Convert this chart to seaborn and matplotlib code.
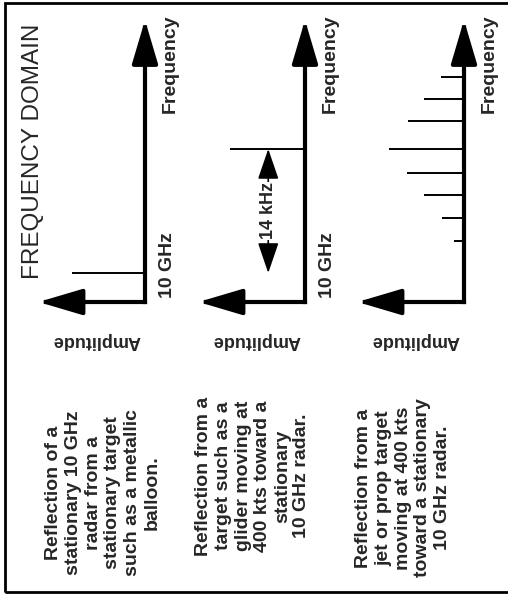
import numpy as np
import matplotlib
matplotlib.use("Agg")
import matplotlib.pyplot as plt
import seaborn as sns
from matplotlib.patches import Rectangle

sns.set_style("white")
plt.rcParams["font.family"] = ["Liberation Sans", "DejaVu Sans"]

# spectral lines: frequency offset from 10 GHz (kHz) and relative amplitude
balloon_freq = [0.0]
balloon_amp = [0.97]
glider_freq = [14.0]
glider_amp = [1.0]
jet_freq = [22.1, 19.6, 17.2, 14.0, 11.3, 8.8, 6.2, 3.6]
jet_amp = [0.30, 0.53, 0.75, 1.0, 0.76, 0.53, 0.29, 0.13]
doppler_shift = 14.0

panel_freqs = [balloon_freq, glider_freq, jet_freq]
panel_amps = [balloon_amp, glider_amp, jet_amp]
carrier_labels = ["10 GHz", "10 GHz", None]
captions = [
    "Reflection of a\nstationary 10 GHz\nradar from a\nstationary target\nsuch as a metallic\nballoon.",
    "Reflection from a\ntarget such as a\nglider moving at\n400 kts toward a\nstationary\n10 GHz radar.",
    "Reflection from a\njet or prop target\nmoving at 400 kts\ntoward a stationary\n10 GHz radar.",
]
title = "FREQUENCY DOMAIN"

W, H = 508, 597
fig = plt.figure(figsize=(W / 100, H / 100), dpi=100)

# layout in pixels
axis_x = [145, 305, 464]
corner_y, top_y, f0_y = 302, 20, 273
px_khz, px_amp = 8.86, 75
amp_max = 1.42
f_lo = -(corner_y - f0_y) / px_khz
f_hi = (f0_y - top_y) / px_khz
caption_xy = [(103, 493), (253, 476), (403, 488)]

for i in range(3):
    left = (axis_x[i] - amp_max * px_amp) / W
    ax = fig.add_axes([left, 1 - corner_y / H, amp_max * px_amp / W, (corner_y - top_y) / H])
    ax.set_xlim(amp_max, 0)
    ax.set_ylim(f_lo, f_hi)
    ax.axis("off")

    ax.hlines(panel_freqs[i], 0, panel_amps[i], color="black", lw=1.4)

    arrow = dict(arrowstyle="-|>,head_length=2.7,head_width=0.8", color="black",
                 lw=3, shrinkA=0, shrinkB=0, capstyle="projecting")
    ax.annotate("", xy=(1, 1), xytext=(1, 0), xycoords="axes fraction", arrowprops=arrow)
    ax.annotate("", xy=(0, 0), xytext=(1, 0), xycoords="axes fraction", arrowprops=arrow)

    ax.annotate("Frequency", xy=(0, 23.6), xytext=(25, 0), textcoords="offset pixels",
                rotation=90, ha="center", va="center", fontsize=14, fontweight="bold")
    if carrier_labels[i]:
        ax.annotate(carrier_labels[i], xy=(0, 0.9), xytext=(23, 0), textcoords="offset pixels",
                    rotation=90, ha="center", va="center", fontsize=14, fontweight="bold")
    ax.annotate("Amplitude", xy=(0, f_lo), xytext=(-49, -38), textcoords="offset pixels",
                rotation=180, ha="center", va="center", fontsize=13, fontweight="bold")

    if i == 1:
        ax.annotate("", xy=(0.49, doppler_shift), xytext=(0.49, 0),
                    arrowprops=dict(arrowstyle="<|-|>,head_length=1.9,head_width=0.65",
                                    color="black", lw=1.2, shrinkA=0, shrinkB=0))
        ax.text(0.49, doppler_shift / 2, "14 kHz", rotation=90, ha="center", va="center",
                fontsize=13, fontweight="bold",
                bbox=dict(facecolor="white", edgecolor="none", pad=0.5))

    cx, cy = caption_xy[i]
    fig.text(cx / W, 1 - cy / H, captions[i], rotation=90, ha="center", va="center",
             multialignment="center", fontsize=14, fontweight="bold", linespacing=1.2)

fig.text(33 / W, 1 - 151 / H, title, rotation=90, ha="center", va="center", fontsize=17.5)

fig.add_artist(Rectangle((5 / W, 1 - 592 / H), 1.0, (592 - 3) / H, transform=fig.transFigure,
                         fill=False, edgecolor="black", lw=2))

fig.savefig("out.png", dpi=100)
